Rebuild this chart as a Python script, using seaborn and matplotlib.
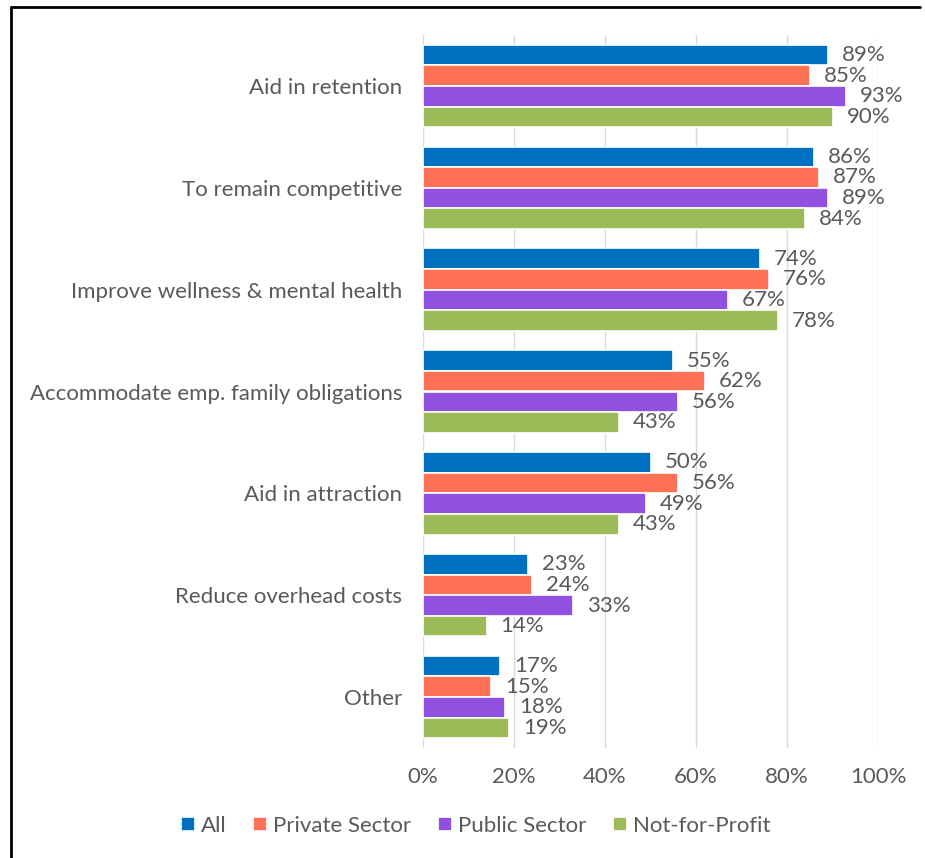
import matplotlib
matplotlib.use("Agg")
import matplotlib.pyplot as plt
import matplotlib.lines as mlines
import seaborn as sns
import pandas as pd

categories = [
    "Aid in retention",
    "To remain competitive",
    "Improve wellness & mental health",
    "Accommodate emp. family obligations",
    "Aid in attraction",
    "Reduce overhead costs",
    "Other",
]
groups = ["All", "Private Sector", "Public Sector", "Not-for-Profit"]
all_vals = [89, 86, 74, 55, 50, 23, 17]
private_vals = [85, 87, 76, 62, 56, 24, 15]
public_vals = [93, 89, 67, 56, 49, 33, 18]
nfp_vals = [90, 84, 78, 43, 43, 14, 19]
colors = ["#0070C0", "#FF7155", "#9050E0", "#9BBB59"]

series = dict(zip(groups, [all_vals, private_vals, public_vals, nfp_vals]))
df = pd.DataFrame(
    [(c, g, v) for g, vals in series.items() for c, v in zip(categories, vals)],
    columns=["reason", "group", "pct"],
)

sns.set_theme(style="white")
plt.rcParams["font.family"] = ["Lato", "DejaVu Sans"]
text_color = "#595959"

W, H = 925, 858
fig = plt.figure(figsize=(W / 100, H / 100), dpi=100)
ax = fig.add_axes([423 / W, 1 - 748 / H, 455 / W, 713 / H])

sns.barplot(
    data=df, y="reason", x="pct", hue="group",
    order=categories, hue_order=groups, palette=colors,
    orient="h", width=0.81, edgecolor="white", linewidth=1.2,
    ax=ax, legend=True, saturation=1,
)

for container, g in zip(ax.containers, groups):
    ax.bar_label(container, labels=[f"{v}%" for v in series[g]],
                 padding=10, fontsize=16, color=text_color)

ax.set_xlim(0, 100)
ax.set_ylim(6.5, -0.5)
ax.set_xticks(range(0, 101, 20))
ax.set_xticklabels([f"{t}%" for t in range(0, 101, 20)])
ax.xaxis.grid(True, color="#D9D9D9", linewidth=1)
ax.set_axisbelow(True)
ax.tick_params(axis="both", length=0, labelsize=16, labelcolor=text_color)
ax.tick_params(axis="x", pad=14)
ax.tick_params(axis="y", pad=15)
ax.set_xlabel("")
ax.set_ylabel("")
for s in ax.spines.values():
    s.set_visible(False)

leg = ax.legend(
    loc="center", bbox_to_anchor=(476 / W, 1 - 826 / H),
    bbox_transform=fig.transFigure, ncol=4, frameon=False,
    fontsize=16, handlelength=0.6, handleheight=0.6,
    handletextpad=0.3, columnspacing=1.2,
)
for t in leg.get_texts():
    t.set_color(text_color)

# Frame lines along the top and left edges
fig.add_artist(mlines.Line2D([11 / W, 11 / W], [0, 1 - 7 / H],
                             transform=fig.transFigure, color="black", linewidth=2))
fig.add_artist(mlines.Line2D([11 / W, 920 / W], [1 - 7 / H, 1 - 7 / H],
                             transform=fig.transFigure, color="black", linewidth=2))

fig.savefig("out.png", dpi=100, facecolor="white")
